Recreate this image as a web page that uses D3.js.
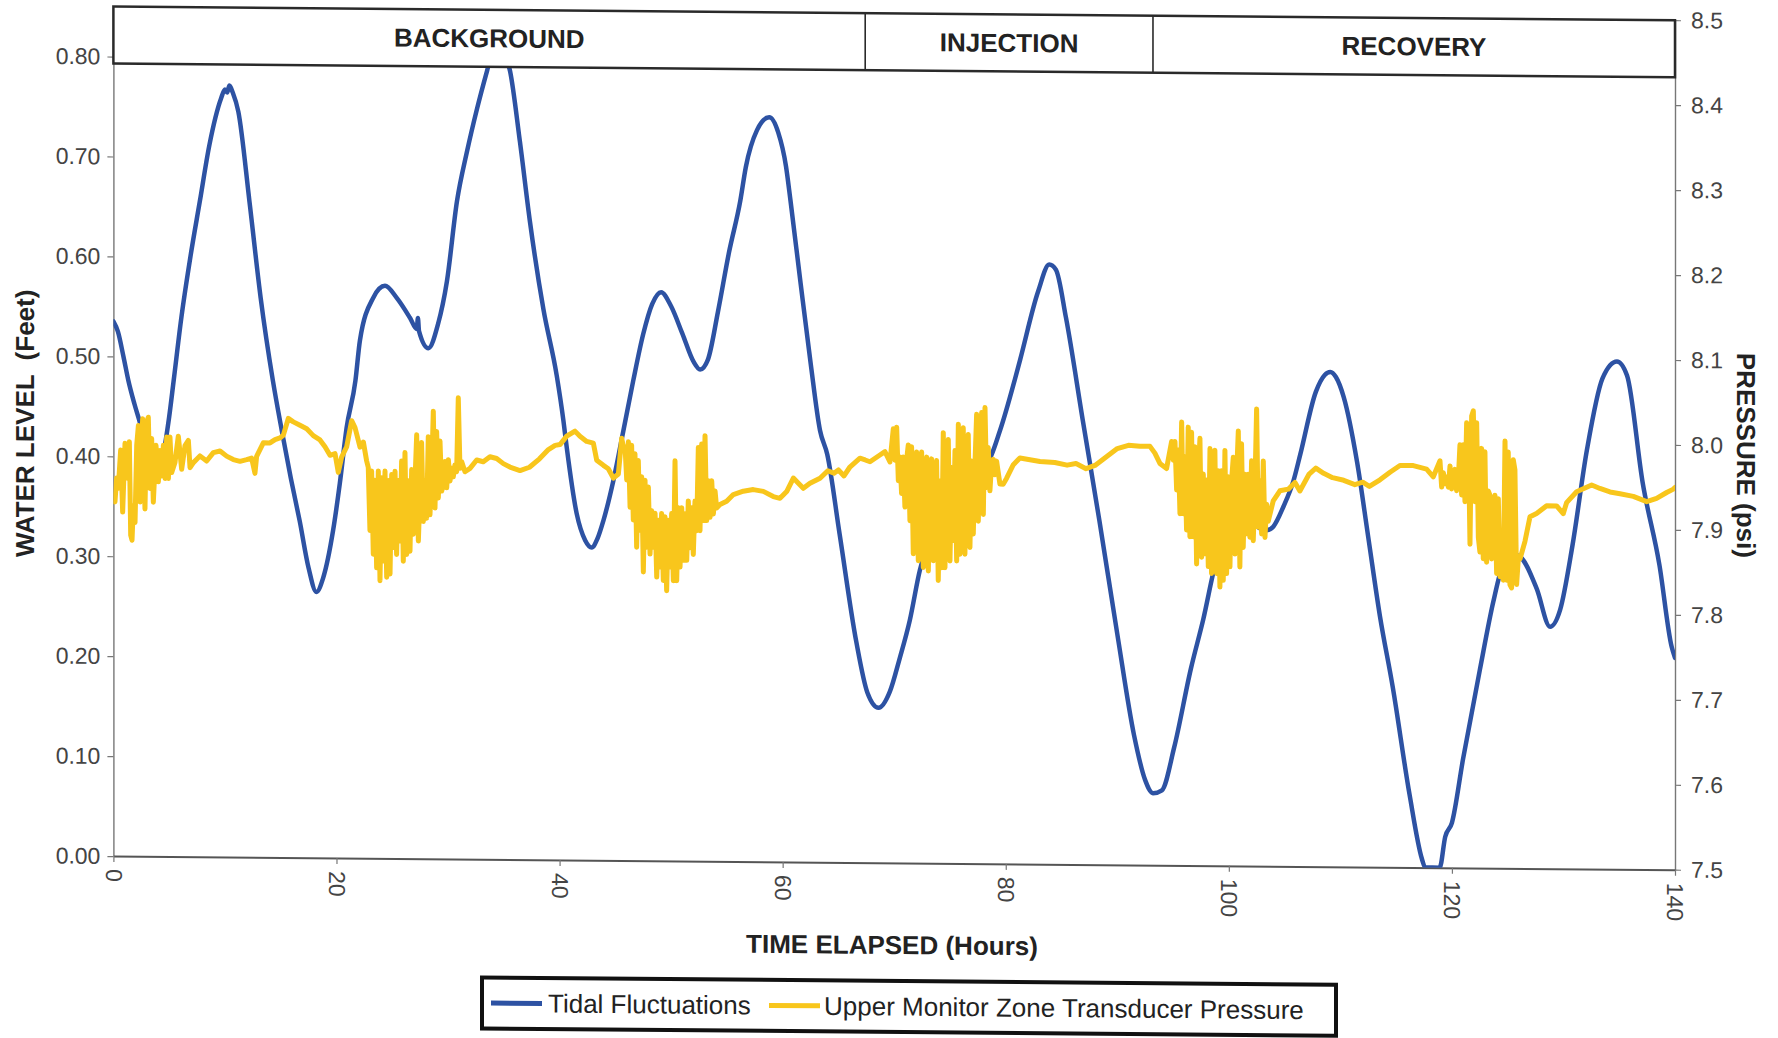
<!DOCTYPE html>
<html>
<head>
<meta charset="utf-8">
<script src="https://cdn.jsdelivr.net/npm/d3@7"></script>
<style>
  html, body { margin: 0; padding: 0; background: #fff; }
  svg { display: block; }
  text { font-family: "Liberation Sans", Arial, Helvetica, sans-serif; }
</style>
</head>
<body>
<svg id="chart" width="1778" height="1038"></svg>
<script>
// Test phases shown in the banner across the top of the plot (hours)
const phases = [
  { name: "BACKGROUND", start: 0, end: 67.4 },
  { name: "INJECTION", start: 67.4, end: 93.2 },
  { name: "RECOVERY", start: 93.2, end: 140 }
];

const hourTicks = [0, 20, 40, 60, 80, 100, 120, 140];
const levelTicks = [0, 0.1, 0.2, 0.3, 0.4, 0.5, 0.6, 0.7, 0.8];
const pressureTicks = [7.5, 7.6, 7.7, 7.8, 7.9, 8.0, 8.1, 8.2, 8.3, 8.4, 8.5];

// Tidal fluctuations: [hours elapsed, water level in feet]
const tidalFluctuations = [
  [0, 0.535], [0.4, 0.525], [0.9, 0.5], [1.34, 0.476], [1.9, 0.452], [2.4, 0.433], [3.0, 0.405],
  [3.7, 0.388], [4.1, 0.392], [4.5, 0.405], [5.0, 0.44], [5.4, 0.476], [6.1, 0.54], [6.9, 0.6],
  [7.75, 0.656], [8.6, 0.712], [9.65, 0.759], [10.0, 0.768], [10.2, 0.765], [10.4, 0.772],
  [10.7, 0.765], [11.2, 0.746], [12.2, 0.656], [13.2, 0.56], [14.3, 0.477], [15.1, 0.427],
  [15.9, 0.38], [16.7, 0.337], [17.5, 0.29], [18.2, 0.266], [18.8, 0.28], [19.7, 0.328],
  [20.3, 0.375], [20.9, 0.43], [21.7, 0.478], [22.1, 0.518], [23.3, 0.561], [24.35, 0.573],
  [25.4, 0.561], [26.6, 0.541], [27.2, 0.53], [27.3, 0.541], [27.4, 0.528], [28.24, 0.511],
  [29.1, 0.535], [29.9, 0.578], [30.8, 0.658], [31.7, 0.708], [32.6, 0.751], [33.5, 0.789],
  [34.3, 0.82], [35.0, 0.81], [35.56, 0.789], [36.45, 0.718], [37.35, 0.638], [38.55, 0.551],
  [39.74, 0.485], [40.34, 0.44], [40.64, 0.413], [41.53, 0.347], [42.3, 0.32], [42.88, 0.313],
  [43.4, 0.322], [43.93, 0.34], [44.82, 0.38], [45.72, 0.43], [46.6, 0.48], [47.5, 0.527],
  [48.3, 0.557], [49.1, 0.569], [50.0, 0.555], [51.0, 0.528], [52.0, 0.5], [52.6, 0.492],
  [53.3, 0.502], [54.2, 0.55], [55.2, 0.61], [56.2, 0.661], [56.7, 0.695], [57.7, 0.732],
  [58.8, 0.745], [59.6, 0.73], [60.3, 0.696], [60.7, 0.662], [61.6, 0.58], [62.5, 0.5],
  [63.35, 0.432], [64.0, 0.408], [65.1, 0.329], [66.6, 0.221], [67.6, 0.17], [68.6, 0.155],
  [69.6, 0.171], [70.5, 0.205], [71.4, 0.243], [72.3, 0.293], [73.4, 0.33], [74.1, 0.35],
  [75.4, 0.368], [77.1, 0.393], [78.3, 0.4], [79.5, 0.434], [80.8, 0.484], [81.3, 0.505],
  [82.9, 0.573], [83.9, 0.6], [84.5, 0.595], [85.4, 0.547], [86.9, 0.445], [88.4, 0.344],
  [90.0, 0.231], [91.5, 0.13], [92.5, 0.085], [93.2, 0.072], [94.0, 0.075], [95.1, 0.118],
  [96.6, 0.197], [97.7, 0.246], [98.9, 0.306], [100.2, 0.335], [101.6, 0.349], [102.5, 0.34],
  [103.4, 0.336], [104.0, 0.34], [104.9, 0.36], [105.8, 0.386], [106.4, 0.412], [107.8, 0.475],
  [108.6, 0.492], [109.1, 0.495], [109.6, 0.49], [110.3, 0.47], [111.5, 0.405], [112.5, 0.33],
  [113.55, 0.251], [114.7, 0.18], [116.2, 0.073], [117.3, 0.009], [117.6, 0.0], [118.9, 0.0],
  [119.4, 0.031], [120.0, 0.045], [121.0, 0.109], [122.5, 0.198], [123.7, 0.266], [124.6, 0.305],
  [125.3, 0.315], [126.1, 0.312], [127.6, 0.28], [128.8, 0.242], [129.7, 0.259], [130.8, 0.323],
  [132.1, 0.419], [133.5, 0.491], [134.8, 0.508], [135.7, 0.494], [137.1, 0.387], [138.6, 0.305],
  [139.7, 0.223], [140.0, 0.212]
];

// Upper monitor zone transducer pressure: [hours elapsed, psi]
const pressureBackground = [
  [0, 7.925], [0.14, 7.917], [0.29, 7.945], [0.44, 7.933], [0.65, 7.978], [0.83, 7.905], [1.04, 7.986],
  [1.25, 7.945], [1.43, 7.988], [1.55, 7.878], [1.67, 7.872], [1.79, 7.913], [1.94, 7.893], [2.09, 7.984],
  [2.24, 8.007], [2.39, 7.917], [2.62, 8.015], [2.83, 7.909], [2.98, 8.011], [3.13, 8.017], [3.28, 7.933],
  [3.43, 7.992], [3.58, 7.917], [3.82, 7.984], [4.03, 7.941], [4.18, 7.978], [4.33, 7.948], [4.48, 7.984],
  [4.63, 7.945], [4.78, 7.994], [4.93, 7.945], [5.07, 7.994], [5.22, 7.952], [5.52, 7.964], [5.82, 7.995],
  [6.12, 7.956], [6.42, 7.984], [6.72, 7.99], [6.87, 7.958], [7.17, 7.964], [7.47, 7.968], [7.76, 7.972],
  [8.36, 7.966], [8.96, 7.976], [9.56, 7.978], [10.15, 7.972], [10.75, 7.968], [11.35, 7.966], [11.95, 7.968],
  [12.39, 7.97], [12.69, 7.952], [12.84, 7.972], [13.44, 7.988], [14.04, 7.988], [14.49, 7.992], [14.93, 7.994],
  [15.23, 7.997], [15.68, 8.017], [16.13, 8.013], [16.73, 8.009], [17.33, 8.005], [17.92, 7.997], [18.52, 7.992],
  [18.97, 7.984], [19.42, 7.974], [19.87, 7.976], [20.16, 7.954], [20.46, 7.972], [20.91, 7.984], [21.36, 8.015],
  [21.66, 8.007], [22.11, 7.984], [22.41, 7.99], [22.7, 7.968],
  [22.85, 7.96], [23.0, 7.886], [23.15, 7.956], [23.3, 7.858], [23.45, 7.945], [23.6, 7.842], [23.75, 7.956],
  [23.9, 7.827], [24.05, 7.948], [24.2, 7.85], [24.35, 7.956], [24.5, 7.831], [24.65, 7.945], [24.8, 7.835],
  [24.95, 7.952], [25.1, 7.866], [25.25, 7.956], [25.39, 7.858], [25.54, 7.945], [25.69, 7.874], [25.84, 7.968],
  [25.99, 7.85], [26.14, 7.978], [26.29, 7.858], [26.44, 7.945], [26.59, 7.862], [26.74, 7.958], [26.89, 7.882],
  [27.04, 7.945], [27.19, 7.999], [27.34, 7.874], [27.49, 7.933], [27.63, 7.99], [27.78, 7.897], [27.93, 7.945],
  [28.08, 7.901], [28.23, 7.997], [28.38, 7.905], [28.53, 7.952], [28.68, 8.027], [28.83, 7.913], [28.98, 8.003],
  [29.13, 7.925], [29.28, 7.992], [29.43, 7.933], [29.58, 7.941], [29.73, 7.968], [29.88, 7.937], [30.03, 7.97],
  [30.18, 7.945], [30.32, 7.96], [30.47, 7.95], [30.62, 7.964], [30.77, 7.956], [30.92, 8.043], [31.07, 7.96],
  [31.22, 7.968], [31.52, 7.956], [31.97, 7.96], [32.57, 7.97], [33.16, 7.968], [33.76, 7.974], [34.36, 7.972],
  [34.96, 7.966], [35.55, 7.962], [36.45, 7.958], [37.3, 7.962], [38.2, 7.972], [39.0, 7.983], [39.6, 7.988],
  [40.04, 7.989], [40.64, 7.999], [41.38, 8.005], [41.83, 7.999], [42.43, 7.993], [43.03, 7.991], [43.33, 7.971],
  [43.93, 7.965], [44.37, 7.961], [44.82, 7.95], [45.27, 7.955], [45.57, 7.997], [45.72, 7.987],
  [45.87, 7.987], [46.02, 7.948], [46.17, 7.993], [46.32, 7.916], [46.46, 7.989], [46.61, 7.901], [46.76, 7.979],
  [46.91, 7.869], [47.06, 7.971], [47.21, 7.889], [47.36, 7.952], [47.51, 7.84], [47.66, 7.948], [47.81, 7.869],
  [47.96, 7.94], [48.11, 7.861], [48.26, 7.912], [48.41, 7.869], [48.56, 7.909], [48.71, 7.834], [48.86, 7.901],
  [49.0, 7.846], [49.15, 7.909], [49.3, 7.83], [49.45, 7.905], [49.6, 7.818], [49.75, 7.901], [49.9, 7.846],
  [50.05, 7.909], [50.2, 7.83], [50.35, 7.971], [50.5, 7.83], [50.65, 7.916], [50.8, 7.846], [50.95, 7.916],
  [51.1, 7.854], [51.25, 7.909], [51.4, 7.854], [51.54, 7.924], [51.69, 7.869], [51.84, 7.916], [51.99, 7.861],
  [52.14, 7.924], [52.29, 7.889], [52.44, 7.987], [52.59, 7.889], [52.74, 7.991], [52.89, 7.901], [53.04, 8.001],
  [53.19, 7.901], [53.34, 7.948], [53.49, 7.905], [53.64, 7.948], [53.79, 7.909], [53.94, 7.936], [54.08, 7.916],
  [54.38, 7.92], [54.98, 7.924], [55.58, 7.932], [56.47, 7.936], [57.37, 7.938], [58.27, 7.936], [59.16, 7.93],
  [59.76, 7.928], [60.36, 7.936], [60.96, 7.952], [61.41, 7.946], [61.85, 7.94], [62.45, 7.946], [63.35, 7.952],
  [64.05, 7.961], [64.6, 7.958], [65.0, 7.962], [65.5, 7.955], [66.0, 7.965], [66.93, 7.976], [67.4, 7.974]
];

const pressureInjection = [
  [67.83, 7.972], [68.72, 7.98], [69.17, 7.984], [69.62, 7.972], [69.92, 8.011], [70.07, 7.974], [70.22, 8.013],
  [70.37, 7.95], [70.52, 7.978], [70.66, 7.935], [70.81, 7.978], [70.96, 7.919], [71.11, 7.974], [71.26, 7.992],
  [71.41, 7.903], [71.56, 7.99], [71.71, 7.864], [71.86, 7.966], [72.01, 7.984], [72.16, 7.856], [72.31, 7.966],
  [72.46, 7.984], [72.61, 7.848], [72.76, 7.966], [72.91, 7.978], [73.06, 7.844], [73.21, 7.958], [73.35, 7.976],
  [73.5, 7.856], [73.65, 7.95], [73.8, 7.974], [73.95, 7.833], [74.1, 7.95], [74.25, 7.848], [74.4, 8.007],
  [74.55, 7.848], [74.7, 7.95], [74.85, 7.999], [75.0, 7.856], [75.15, 7.966], [75.3, 7.88], [75.45, 7.986],
  [75.6, 7.856], [75.75, 8.017], [75.89, 7.864], [76.04, 7.99], [76.19, 8.013], [76.34, 7.864], [76.49, 7.982],
  [76.64, 8.005], [76.79, 7.872], [76.94, 7.974], [77.09, 7.888], [77.24, 7.97], [77.39, 8.029], [77.54, 7.903],
  [77.69, 7.99], [77.84, 8.031], [77.99, 7.911], [78.14, 8.037], [78.29, 7.943], [78.43, 7.99], [78.58, 7.939],
  [78.73, 7.97], [78.88, 7.976], [79.03, 7.958], [79.18, 7.974], [79.48, 7.947], [79.78, 7.947], [80.08, 7.954],
  [80.68, 7.97], [81.27, 7.978], [82.17, 7.976], [83.07, 7.974], [84.4, 7.973], [85.5, 7.97], [86.3, 7.972],
  [87.2, 7.966], [88.0, 7.97], [89.0, 7.98], [90.0, 7.99], [91.0, 7.994], [92.03, 7.993], [92.93, 7.993]
];

const pressureRecovery = [
  [93.37, 7.985], [93.82, 7.973], [94.42, 7.967], [94.87, 7.999], [95.02, 7.977], [95.17, 7.999], [95.32, 7.942],
  [95.47, 7.989], [95.62, 7.914], [95.77, 8.022], [95.91, 7.914], [96.06, 7.981], [96.21, 7.895], [96.36, 8.016],
  [96.51, 7.887], [96.66, 8.01], [96.81, 7.887], [96.96, 7.993], [97.11, 7.855], [97.26, 7.961], [97.41, 8.003],
  [97.56, 7.863], [97.71, 7.961], [97.86, 7.867], [98.01, 7.954], [98.16, 7.852], [98.31, 7.991], [98.45, 7.844],
  [98.6, 7.983], [98.75, 7.989], [98.9, 7.844], [99.05, 7.965], [99.2, 7.828], [99.35, 7.965], [99.5, 7.836],
  [99.65, 7.989], [99.8, 7.844], [99.95, 7.958], [100.1, 7.852], [100.25, 7.954], [100.4, 7.981], [100.55, 7.867],
  [100.7, 7.961], [100.85, 8.012], [100.99, 7.852], [101.14, 7.997], [101.29, 7.875], [101.44, 7.961],
  [101.59, 7.891], [101.74, 7.961], [101.89, 7.887], [102.04, 7.977], [102.19, 7.883], [102.34, 7.946],
  [102.49, 8.038], [102.64, 7.899], [102.79, 7.954], [102.94, 7.891], [103.09, 7.977], [103.24, 7.887],
  [103.39, 7.926], [103.53, 7.906], [103.98, 7.93], [104.58, 7.942], [105.33, 7.944], [105.93, 7.952],
  [106.37, 7.942], [107.2, 7.962], [107.8, 7.969], [108.5, 7.963], [109.3, 7.958], [110.3, 7.955], [111.3, 7.95],
  [112.0, 7.953], [112.6, 7.948], [113.55, 7.956], [114.45, 7.965], [115.34, 7.973], [116.54, 7.973],
  [117.73, 7.969], [118.33, 7.96],
  [118.93, 7.979], [119.08, 7.948], [119.23, 7.965], [119.38, 7.952], [119.53, 7.96], [119.68, 7.948],
  [119.83, 7.973], [119.97, 7.946], [120.12, 7.965], [120.27, 7.969], [120.42, 7.944], [120.57, 7.956],
  [120.72, 7.998], [120.87, 7.939], [121.02, 7.998], [121.17, 7.931], [121.32, 8.024], [121.47, 8.011],
  [121.62, 7.881], [121.77, 8.032], [121.92, 8.038], [122.07, 7.931], [122.22, 8.024], [122.37, 7.889],
  [122.51, 7.872], [122.66, 7.994], [122.81, 7.864], [122.96, 7.99], [123.11, 7.86], [123.26, 7.944],
  [123.41, 7.939], [123.56, 7.864], [123.71, 7.906], [123.86, 7.939], [124.01, 7.847], [124.16, 7.935],
  [124.31, 7.843], [124.46, 7.897], [124.61, 7.839], [124.76, 8.003], [124.91, 7.839], [125.05, 7.99],
  [125.2, 7.834], [125.35, 7.83], [125.5, 7.981], [125.65, 7.969], [125.8, 7.834], [125.95, 7.864],
  [126.1, 7.864], [126.55, 7.885], [127.0, 7.914], [127.59, 7.918], [128.49, 7.927], [129.39, 7.927],
  [129.98, 7.918], [130.28, 7.931], [131.18, 7.944], [132.53, 7.952], [133.27, 7.948], [134.17, 7.944],
  [135.07, 7.942], [136.26, 7.939], [137.46, 7.933], [138.35, 7.937], [139.25, 7.944], [139.85, 7.948],
  [140, 7.95]
];

const transducerPressure = pressureBackground.concat(pressureInjection, pressureRecovery);

// ---- layout ----
const plot = { left: 113.4, right: 1675, top: 13.4, bottom: 862.9 };
const bannerHeight = 57;
const tidalColor = "#2d52a3";
const pressureColor = "#f8c61c";

const x = d3.scaleLinear().domain([0, 140]).range([plot.left, plot.right]);
const yLevel = d3.scaleLinear().domain([0, 0.85]).range([plot.bottom, plot.top]);
const yPress = d3.scaleLinear().domain([7.5, 8.5]).range([plot.bottom, plot.top]);

const svg = d3.select("#chart");
svg.append("rect").attr("width", 1778).attr("height", 1038).attr("fill", "#fff");

// the whole sheet sits with a slight downward slope to the right
const slopeDeg = 0.5;
const pivotX = 894;
const root = svg.append("g")
  .attr("transform", `translate(0,${-pivotX * Math.tan(slopeDeg * Math.PI / 180)}) skewY(${slopeDeg})`);

root.append("defs").append("clipPath").attr("id", "plot-clip")
  .append("rect")
  .attr("x", plot.left).attr("y", plot.top)
  .attr("width", plot.right - plot.left).attr("height", plot.bottom - plot.top);

// ---- axes ----
const tickFont = 23;
const tickColor = "#444";

const leftAxis = root.append("g")
  .attr("transform", `translate(${plot.left},0)`)
  .call(d3.axisLeft(yLevel).tickValues(levelTicks).tickFormat(d3.format(".2f"))
    .tickSize(6).tickSizeOuter(0).tickPadding(7));

const rightAxis = root.append("g")
  .attr("transform", `translate(${plot.right},0)`)
  .call(d3.axisRight(yPress).tickValues(pressureTicks).tickFormat(d3.format(".1f"))
    .tickSize(6).tickSizeOuter(0).tickPadding(10));

const bottomAxis = root.append("g")
  .attr("transform", `translate(0,${plot.bottom})`)
  .call(d3.axisBottom(x).tickValues(hourTicks).tickFormat(d3.format("d"))
    .tickSize(6).tickSizeOuter(0));

[leftAxis, rightAxis, bottomAxis].forEach(g => {
  g.select(".domain").attr("stroke", "#777").attr("stroke-width", 1.4);
  g.selectAll(".tick line").attr("stroke", "#777").attr("stroke-width", 1.2);
  g.selectAll("text")
    .attr("fill", tickColor)
    .style("font-size", tickFont + "px")
    .style("font-family", '"Liberation Sans", Arial, sans-serif');
});
bottomAxis.select(".domain").attr("stroke", "#555").attr("stroke-width", 2);

bottomAxis.selectAll(".tick text")
  .attr("transform", "rotate(90)")
  .attr("text-anchor", "start")
  .attr("x", 13)
  .attr("y", 0)
  .attr("dy", "0.35em");

// ---- series ----
const series = root.append("g").attr("clip-path", "url(#plot-clip)");

series.append("path")
  .datum(tidalFluctuations)
  .attr("fill", "none")
  .attr("stroke", tidalColor)
  .attr("stroke-width", 4.5)
  .attr("stroke-linejoin", "round")
  .attr("stroke-linecap", "round")
  .attr("d", d3.line().x(d => x(d[0])).y(d => yLevel(d[1])).curve(d3.curveMonotoneX));

series.append("path")
  .datum(transducerPressure)
  .attr("fill", "none")
  .attr("stroke", pressureColor)
  .attr("stroke-width", 5)
  .attr("stroke-linejoin", "round")
  .attr("stroke-linecap", "round")
  .attr("d", d3.line().x(d => x(d[0])).y(d => yPress(d[1])));

// ---- phase banner ----
const banner = root.append("g");
banner.append("rect")
  .attr("x", x(0)).attr("y", plot.top)
  .attr("width", x(140) - x(0)).attr("height", bannerHeight)
  .attr("fill", "#fff").attr("stroke", "#2a2a2a").attr("stroke-width", 2.5);

banner.selectAll("line.divider")
  .data(phases.slice(1))
  .join("line")
  .attr("class", "divider")
  .attr("x1", d => x(d.start)).attr("x2", d => x(d.start))
  .attr("y1", plot.top).attr("y2", plot.top + bannerHeight)
  .attr("stroke", "#2a2a2a").attr("stroke-width", 1.6);

banner.selectAll("text.phase")
  .data(phases)
  .join("text")
  .attr("class", "phase")
  .attr("x", d => x((d.start + d.end) / 2))
  .attr("y", plot.top + bannerHeight / 2 + 9)
  .attr("text-anchor", "middle")
  .attr("fill", "#222")
  .style("font-size", "26px")
  .style("font-weight", "bold")
  .text(d => d.name);

// ---- axis titles ----
root.append("text")
  .attr("transform", `translate(34,431) rotate(-90)`)
  .attr("text-anchor", "middle")
  .attr("fill", "#222")
  .style("font-size", "26px").style("font-weight", "bold")
  .attr("xml:space", "preserve")
  .text("WATER LEVEL  (Feet)");

root.append("text")
  .attr("transform", `translate(1737,448) rotate(90)`)
  .attr("text-anchor", "middle")
  .attr("fill", "#222")
  .style("font-size", "26px").style("font-weight", "bold")
  .text("PRESSURE (psi)");

root.append("text")
  .attr("x", 892).attr("y", 954)
  .attr("text-anchor", "middle")
  .attr("fill", "#222")
  .style("font-size", "26px").style("font-weight", "bold")
  .text("TIME ELAPSED (Hours)");

// ---- legend ----
const legendItems = [
  { label: "Tidal Fluctuations", color: tidalColor, x0: 491, tx: 548 },
  { label: "Upper Monitor Zone Transducer Pressure", color: pressureColor, x0: 769, tx: 824 }
];
const legend = root.append("g");
const legendTop = 981, legendH = 51;
legend.append("rect")
  .attr("x", 482).attr("y", legendTop)
  .attr("width", 854).attr("height", legendH)
  .attr("fill", "#fff").attr("stroke", "#111").attr("stroke-width", 4);

const li = legend.selectAll("g.item").data(legendItems).join("g").attr("class", "item");
li.append("line")
  .attr("x1", d => d.x0).attr("x2", d => d.x0 + 51)
  .attr("y1", legendTop + legendH / 2).attr("y2", legendTop + legendH / 2)
  .attr("stroke", d => d.color).attr("stroke-width", 5);
li.append("text")
  .attr("x", d => d.tx).attr("y", legendTop + legendH / 2 + 9)
  .attr("fill", "#222")
  .style("font-size", "26px")
  .text(d => d.label);
</script>
</body>
</html>
